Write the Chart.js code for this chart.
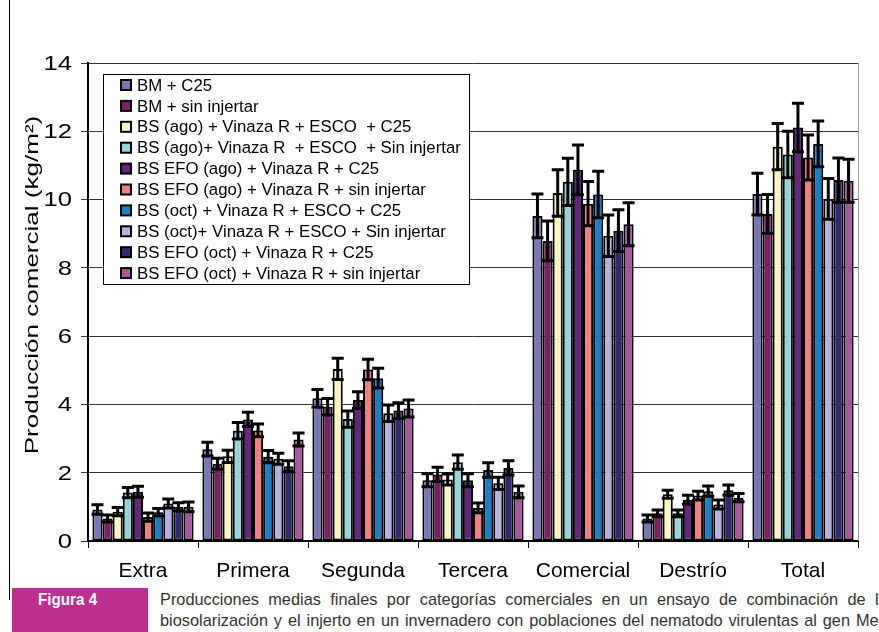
<!DOCTYPE html>
<html>
<head>
<meta charset="utf-8">
<script src="https://cdn.jsdelivr.net/npm/chart.js@4.4.1/dist/chart.umd.min.js"></script>
<style>
  body { margin: 0; width: 879px; height: 632px; overflow: hidden; background: #fff; position: relative; }
  #wrap { position: absolute; left: 0; top: 0; width: 879px; height: 590px; }
  #frame { position: absolute; left: 9px; top: 0; width: 1px; height: 600px; background: #000; }
  #fig { position: absolute; left: 12px; top: 588px; width: 136px; height: 44px; background: #bc2f8c; }
  #fig span { position: absolute; left: 26px; top: 3px; color: #fff; white-space: nowrap;
              font: bold 16px "Liberation Sans", Arial, sans-serif; transform: scaleX(0.95); transform-origin: 0 0; }
  .cap { position: absolute; left: 160px; width: 758px; white-space: nowrap; color: #333;
         font: 17px "Liberation Sans", Arial, sans-serif;
         text-align: justify; text-align-last: justify; transform: scaleX(0.96); transform-origin: 0 0; }
</style>
</head>
<body>
<div id="wrap"><canvas id="myChart"></canvas></div>
<div id="frame"></div>
<div id="fig"><span>Figura 4</span></div>
<div class="cap" style="top:590px">Producciones medias finales por categorías comerciales en un ensayo de combinación de la</div>
<div class="cap" style="top:611px">biosolarización y el injerto en un invernadero con poblaciones del nematodo virulentas al gen Me7</div>
<script>
const categories = ["Extra", "Primera", "Segunda", "Tercera", "Comercial", "Destrío", "Total"];

// medias (kg/m2) por tratamiento
const bmC25     = [0.92, 2.69, 4.18, 1.78, 9.52, 0.66, 10.16];
const bmSin     = [0.66, 2.26, 3.93, 1.95, 8.79, 0.81, 9.58];
const bsAgoC25  = [0.86, 2.48, 5.04, 1.80, 10.19, 1.37, 11.55];
const bsAgoSin  = [1.42, 3.23, 3.57, 2.31, 10.52, 0.81, 11.32];
const efoAgoC25 = [1.44, 3.56, 4.13, 1.78, 10.87, 1.21, 12.11];
const efoAgoSin = [0.70, 3.24, 5.02, 0.97, 9.88, 1.33, 11.23];
const bsOctC25  = [0.84, 2.47, 4.77, 2.08, 10.15, 1.46, 11.63];
const bsOctSin  = [1.10, 2.41, 3.74, 1.69, 8.94, 1.07, 10.02];
const efoOctC25 = [1.00, 2.19, 3.82, 2.14, 9.09, 1.49, 10.57];
const efoOctSin = [1.00, 2.97, 3.88, 1.44, 9.28, 1.27, 10.55];

// error estandar
const bmC25Err     = [0.14, 0.20, 0.26, 0.19, 0.64, 0.10, 0.61];
const bmSinErr     = [0.10, 0.16, 0.24, 0.21, 0.58, 0.10, 0.57];
const bsAgoC25Err  = [0.12, 0.18, 0.31, 0.16, 0.68, 0.12, 0.68];
const bsAgoSinErr  = [0.15, 0.24, 0.24, 0.21, 0.69, 0.10, 0.68];
const efoAgoC25Err = [0.16, 0.21, 0.24, 0.19, 0.73, 0.13, 0.71];
const efoAgoSinErr = [0.12, 0.19, 0.30, 0.14, 0.65, 0.13, 0.66];
const bsOctC25Err  = [0.11, 0.18, 0.29, 0.21, 0.68, 0.15, 0.67];
const bsOctSinErr  = [0.13, 0.16, 0.24, 0.18, 0.61, 0.13, 0.60];
const efoOctC25Err = [0.12, 0.16, 0.23, 0.21, 0.61, 0.15, 0.65];
const efoOctSinErr = [0.14, 0.19, 0.25, 0.17, 0.63, 0.12, 0.63];

const yTicks = [0, 2, 4, 6, 8, 10, 12, 14];
const yTitle = "Producción comercial (kg/m²)";

const series = [
  { label: "BM + C25", data: bmC25, err: bmC25Err, color: "#7878b8" },
  { label: "BM + sin injertar", data: bmSin, err: bmSinErr, color: "#7a2163" },
  { label: "BS (ago) + Vinaza R + ESCO  + C25", data: bsAgoC25, err: bsAgoC25Err, color: "#faf6c4" },
  { label: "BS (ago)+ Vinaza R  + ESCO  + Sin injertar", data: bsAgoSin, err: bsAgoSinErr, color: "#96d4da" },
  { label: "BS EFO (ago) + Vinaza R + C25", data: efoAgoC25, err: efoAgoC25Err, color: "#62287e" },
  { label: "BS EFO (ago) + Vinaza R + sin injertar", data: efoAgoSin, err: efoAgoSinErr, color: "#f27f82" },
  { label: "BS (oct) + Vinaza R + ESCO + C25", data: bsOctC25, err: bsOctC25Err, color: "#1a80c6" },
  { label: "BS (oct)+ Vinaza R + ESCO + Sin injertar", data: bsOctSin, err: bsOctSinErr, color: "#b4b2da" },
  { label: "BS EFO (oct) + Vinaza R + C25", data: efoOctC25, err: efoOctC25Err, color: "#302a6e" },
  { label: "BS EFO (oct) + Vinaza R + sin injertar", data: efoOctSin, err: efoOctSinErr, color: "#a8559e" },
];

const FONT = '"Liberation Sans", Arial, sans-serif';

// error bars on top of every bar
const errorBars = {
  id: "errorBars",
  afterDatasetsDraw(chart) {
    const ctx = chart.ctx;
    const y = chart.scales.y;
    ctx.save();
    ctx.strokeStyle = "#000";
    ctx.lineWidth = 3;
    chart.data.datasets.forEach((ds, i) => {
      const meta = chart.getDatasetMeta(i);
      meta.data.forEach((bar, j) => {
        const v = ds.data[j], e = ds.err[j];
        const top = y.getPixelForValue(v + e), bot = y.getPixelForValue(v - e);
        const half = 6;
        ctx.beginPath();
        ctx.moveTo(bar.x, top); ctx.lineTo(bar.x, bot);
        ctx.moveTo(bar.x - half, top); ctx.lineTo(bar.x + half, top);
        ctx.moveTo(bar.x - half, bot); ctx.lineTo(bar.x + half, bot);
        ctx.stroke();
      });
    });
    ctx.restore();
  }
};

// boxed legend inside the plot, right edge of the plot area, wide y labels
const boxLegend = {
  id: "boxLegend",
  afterDraw(chart) {
    const ctx = chart.ctx;
    const a = chart.chartArea;
    const ys = chart.scales.y;
    ctx.save();
    ctx.strokeStyle = "#999";
    ctx.lineWidth = 1;
    ctx.beginPath();
    ctx.moveTo(a.right + 0.5, a.top); ctx.lineTo(a.right + 0.5, a.bottom);
    ctx.stroke();

    // y tick labels, a bit wider than the plain font
    ctx.fillStyle = "#000";
    ctx.font = "21px " + FONT;
    ctx.textAlign = "right";
    ctx.textBaseline = "middle";
    ys.ticks.forEach((t) => {
      ctx.save();
      ctx.translate(72, ys.getPixelForValue(t.value) + 1);
      ctx.scale(1.22, 1);
      ctx.fillText(String(t.value), 0, 0);
      ctx.restore();
    });

    // y title, stretched along its length
    ctx.save();
    ctx.translate(38, 285);
    ctx.rotate(-Math.PI / 2);
    ctx.scale(1.37, 1);
    ctx.font = "19px " + FONT;
    ctx.textAlign = "center";
    ctx.textBaseline = "alphabetic";
    ctx.fillText(yTitle, 0, 0);
    ctx.restore();

    const x0 = a.left + 15, y0 = a.top + 11, w = 366, h = 210;
    ctx.fillStyle = "#fff";
    ctx.fillRect(x0, y0, w, h);
    ctx.strokeStyle = "#000";
    ctx.lineWidth = 1;
    ctx.strokeRect(x0 + 0.5, y0 + 0.5, w, h);
    ctx.font = "16.8px " + FONT;
    ctx.textAlign = "left";
    ctx.textBaseline = "middle";
    chart.data.datasets.forEach((ds, i) => {
      const cy = y0 + 11 + i * 20.9;
      ctx.fillStyle = ds.backgroundColor;
      ctx.fillRect(x0 + 18, cy - 5, 10, 10);
      ctx.lineWidth = 2;
      ctx.strokeRect(x0 + 18, cy - 5, 10, 10);
      ctx.fillStyle = "#000";
      ctx.fillText(ds.label, x0 + 34, cy + 1);
    });
    ctx.restore();
  }
};

const ctx1 = document.getElementById("myChart").getContext("2d");
const myChart = new Chart(ctx1, {
  type: "bar",
  data: {
    labels: categories,
    datasets: series.map((s) => ({
      label: s.label,
      data: s.data,
      err: s.err,
      backgroundColor: s.color,
      borderColor: "#000",
      borderWidth: 2,
      borderSkipped: false,
      categoryPercentage: 0.92,
      barPercentage: 1.0,
    })),
  },
  options: {
    responsive: true,
    maintainAspectRatio: false,
    animation: false,
    layout: { padding: { left: 0, right: 21, top: 63, bottom: 0 } },
    plugins: { legend: { display: false }, tooltip: { enabled: false } },
    scales: {
      x: {
        offset: true,
        grid: { offset: true, drawOnChartArea: false, color: "#000", tickLength: 7 },
        border: { color: "#000", width: 2 },
        ticks: { color: "#000", font: { family: FONT, size: 21 }, padding: 11 },
        afterFit: (s) => { s.height = 49; },
      },
      y: {
        min: 0,
        max: 14,
        afterBuildTicks: (s) => { s.ticks = yTicks.map((v) => ({ value: v })); },
        grid: { color: "#333", lineWidth: 1, tickLength: 7 },
        border: { color: "#000", width: 2 },
        ticks: { display: false },
        afterFit: (s) => { s.width = 88; },
      },
    },
  },
  plugins: [errorBars, boxLegend],
});
</script>
</body>
</html>
